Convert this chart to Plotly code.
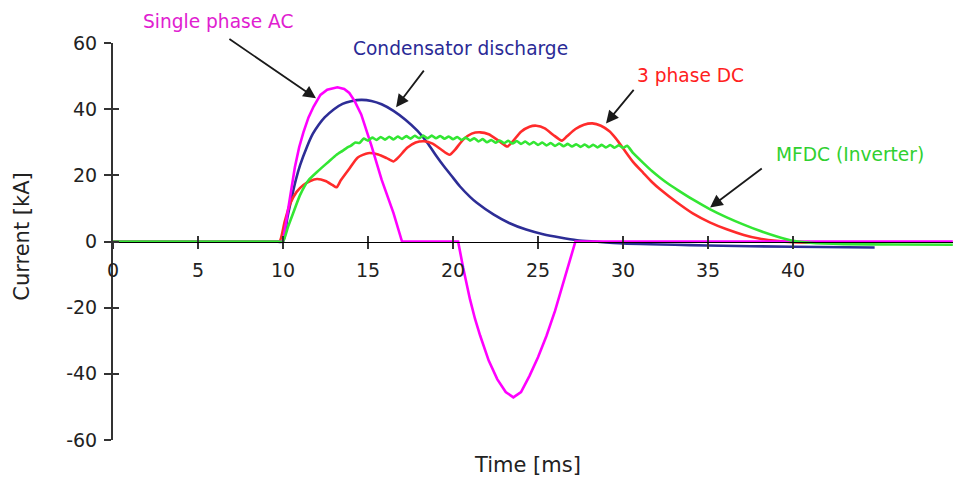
import plotly.graph_objects as go

# ---------------- data ----------------
ac_t = [0, 3, 6, 9, 10.0, 10.2, 10.4, 10.7, 10.95, 11.2, 11.5, 11.8, 12.2, 12.6, 13.2, 13.6, 13.9, 14.2, 14.6, 15.2,
        15.8, 16.5, 17.0, 18.0, 19.0, 20.3, 20.6, 21.0, 21.3, 21.6, 22.1, 22.6, 23.1, 23.55, 24.0, 24.5, 25.0,
        25.5, 26.0, 26.5, 26.9, 27.2, 30, 35, 40, 45, 49.4]
ac_i = [0, 0, 0, 0, 0, 6.5, 13, 22.5, 28.5, 33, 37.5, 40.8, 44.3, 45.9, 46.6, 46.1, 44.9, 42.6, 38.4, 29,
        18.7, 8.6, 0, 0, 0, 0, -8, -17.5, -23.5, -28.5, -36, -41.6, -45.5, -47.1, -45.5, -40.6, -35,
        -28.5, -21, -12.5, -5.5, 0, 0, 0, 0, 0, 0]

cd_t = [0, 3, 6, 9, 9.6, 10.0, 10.25, 10.5, 10.75, 11.0, 11.4, 11.75, 12.1, 12.45, 13.0, 13.5, 14.0, 14.6, 15.2,
        15.8, 16.5, 17.2, 17.9, 18.5, 19.0, 19.5, 20.0, 20.4, 21.0, 21.4, 22.4, 23.3, 24.3, 25.3, 26.3, 27.3,
        28.3, 30.0, 35.0, 40.0, 44.8]
cd_i = [0, 0, 0, 0, 0, 0, 7, 13, 18.5, 23, 28.5, 32.5, 35.3, 37.5, 40.0, 41.6, 42.4, 42.8, 42.5,
        41.5, 39.5, 36.8, 33.5, 29.8, 26, 22.5, 19.3, 16.7, 13.5, 11.7, 8.1, 5.6, 3.6, 2.2, 1.2, 0.4,
        0, -0.6, -1.2, -1.6, -1.8]

dc_t = [0, 3, 6, 9, 9.5, 9.8, 10.1, 10.4, 10.8, 11.2, 11.6, 12.0, 12.5, 12.9, 13.15, 13.4, 13.9, 14.4, 15.0, 15.6,
        16.1, 16.5, 16.8, 17.3, 17.8, 18.3, 18.8, 19.3, 19.8, 20.1, 20.6, 21.1, 21.6, 22.1, 22.7, 23.2, 23.5,
        24.0, 24.5, 24.9, 25.4, 25.9, 26.4, 26.7, 27.2, 27.7, 28.2, 28.7, 29.2, 29.6, 30.0, 30.6, 31.2, 31.7,
        32.2, 33.2, 34.1, 35.1, 36.1, 37.1, 38.0, 39.0, 40.0, 42.0, 44.8]
dc_i = [0, 0, 0, 0, 0, 0, 6, 11.2, 15.0, 17.1, 18.3, 18.9, 18.3, 17.1, 16.4, 18.5, 22.0, 25.4, 26.7, 26.3,
        25.2, 24.2, 25.5, 28.3, 29.9, 30.3, 29.6, 27.8, 26.2, 27.6, 30.8, 32.6, 33.0, 32.4, 30.4, 28.7, 30.2,
        33.2, 34.7, 35.0, 34.2, 32.2, 30.5, 31.8, 34.0, 35.3, 35.7, 35.0, 33.3, 31.0, 28.2, 24.0, 20.7, 18.0,
        15.7, 11.7, 8.5, 5.8, 3.7, 2.0, 0.9, 0.2, -0.2, -0.4, -0.4]

mf_t = [0, 3, 6, 9, 9.6, 10.0, 10.3, 10.6, 11.0, 11.5, 12.0, 12.3, 12.7, 13.15, 13.5,
        13.75, 14.0, 14.25, 14.5, 14.75, 15.0, 15.25, 15.5, 15.75, 16.0, 16.25, 16.5, 16.75, 17.0, 17.25, 17.5,
        17.75, 18.0, 18.25, 18.5, 18.75, 19.0, 19.25, 19.5, 19.75, 20.0, 20.25, 20.5, 20.75, 21.0, 21.25, 21.5,
        21.75, 22.0, 22.25, 22.5, 22.75, 23.0, 23.25, 23.5, 23.75, 24.0, 24.25, 24.5, 24.75, 25.0, 25.25, 25.5,
        25.75, 26.0, 26.25, 26.5, 26.75, 27.0, 27.25, 27.5, 27.75, 28.0, 28.25, 28.5, 28.75, 29.0, 29.25, 29.5,
        29.75, 30.0, 30.25,
        30.6, 31.2, 31.7, 32.2, 32.7, 33.2, 34.1, 35.1, 36.1, 37.1, 38.0, 39.0, 40.0, 41.0, 43.0, 46.0, 49.4]
mf_i = [0, 0, 0, 0, 0, 0, 4.5, 8.6, 14.0, 18.5, 21.0, 22.4, 24.2, 26.2, 27.4,
        28.3, 29.0, 29.9, 29.8, 31.1, 30.5, 31.4, 30.7, 31.6, 30.8, 31.65, 30.85, 31.75, 31.0, 31.85, 31.1,
        31.95, 31.2, 32.0, 31.2, 32.0, 31.2, 31.9, 31.05, 31.75, 30.9, 31.6, 30.7, 31.4, 30.5, 31.2, 30.25,
        30.95, 30.0, 30.7, 29.85, 30.55, 29.7, 30.45, 29.6, 30.35, 29.5, 30.2, 29.35, 30.05, 29.2, 29.9, 29.05,
        29.75, 28.9, 29.6, 28.8, 29.5, 28.7, 29.4, 28.6, 29.3, 28.5, 29.25, 28.45, 29.2, 28.4, 29.15, 28.35,
        29.1, 28.3, 28.9,
        26.7, 23.7, 21.3, 19.2, 17.3, 15.6, 12.7, 9.8, 7.3, 5.1, 3.3, 1.6, 0.2, -0.4, -0.8, -0.9, -1.0]

x_ticks = [0, 5, 10, 15, 20, 25, 30, 35, 40]
x_tick_text = ["0", "5", "10", "15", "20", "25", "30", "35", "40"]
y_ticks = [-60, -40, -20, 0, 20, 40, 60]
y_tick_text = ["-60", "-40", "-20", "0", "20", "40", "60"]

FONT = "DejaVu Sans"
C_AC, C_CD, C_DC, C_MF = "#FF00FF", "#2D2D96", "#FF2B2B", "#33E633"

fig = go.Figure()
fig.add_trace(go.Scatter(x=cd_t, y=cd_i, mode="lines", line=dict(color=C_CD, width=2.6, shape="spline", smoothing=0.6)))
fig.add_trace(go.Scatter(x=dc_t, y=dc_i, mode="lines", line=dict(color=C_DC, width=2.6, shape="spline", smoothing=0.6)))
fig.add_trace(go.Scatter(x=ac_t, y=ac_i, mode="lines", line=dict(color=C_AC, width=2.6, shape="linear")))
fig.add_trace(go.Scatter(x=mf_t, y=mf_i, mode="lines", line=dict(color=C_MF, width=2.6, shape="spline", smoothing=0.5)))
# helper trace for the crossing tick marks
fig.add_trace(go.Scatter(x=[None], y=[None], xaxis="x2", yaxis="y2", hoverinfo="skip"))

XR = [0, 49.41]
YR = [-60, 60]
tickfont = dict(family=FONT, size=19, color="#222222")

fig.update_layout(
    width=953, height=480,
    margin=dict(l=113, r=0, t=43, b=40),
    paper_bgcolor="white", plot_bgcolor="white",
    showlegend=False,
    xaxis=dict(range=XR, tickvals=x_ticks, ticktext=x_tick_text, ticks="outside", ticklen=6, tickwidth=2,
               tickcolor="#333333", showline=True, linecolor="black", linewidth=1, showgrid=False, zeroline=False,
               anchor="free", position=0.5, tickfont=tickfont, ticklabelstandoff=6),
    xaxis2=dict(range=XR, tickvals=x_ticks, ticks="inside", ticklen=6, tickwidth=2, tickcolor="#333333",
                showline=False, showgrid=False, zeroline=False, showticklabels=False,
                overlaying="x", anchor="free", position=0.5),
    yaxis=dict(range=YR, tickvals=y_ticks, ticktext=y_tick_text, ticks="outside", ticklen=7, tickwidth=2,
               tickcolor="#333333", showline=True, linecolor="#333333", linewidth=2, showgrid=False,
               zeroline=False, anchor="x", tickfont=tickfont, ticklabelstandoff=3),
    yaxis2=dict(range=YR, tickvals=y_ticks, ticks="inside", ticklen=6, tickwidth=2, tickcolor="#333333",
                showline=False, showgrid=False, zeroline=False, showticklabels=False,
                overlaying="y", anchor="x2", side="left"),
)

# axis titles
fig.add_annotation(text="Current [kA]", xref="paper", yref="paper", x=-0.1083, y=0.512, textangle=-90,
                   showarrow=False, xanchor="center", yanchor="middle", font=dict(family=FONT, size=21, color="#222222"))
fig.add_annotation(text="Time [ms]", xref="paper", yref="paper", x=0.494, y=-0.063,
                   showarrow=False, xanchor="center", yanchor="middle", font=dict(family=FONT, size=21, color="#222222"))

# series labels (paper coordinates)
labels = [
    ("Single phase AC", 0.125, 1.0554, "#E020D0"),
    ("Condensator discharge", 0.4137, 0.9874, "#2A2A96"),
    ("3 phase DC", 0.6879, 0.9169, "#FF2020"),
    ("MFDC (Inverter)", 0.8771, 0.7179, "#30D030"),
]
for txt, lx, ly, col in labels:
    fig.add_annotation(text=txt, x=lx, y=ly, xref="paper", yref="paper", showarrow=False,
                       xanchor="center", yanchor="middle", font=dict(family=FONT, size=18.6, color=col))

# arrows (head x,y ; tail ax,ay)
arrows = [
    (11.94, 43.3, 6.76, 61.5),
    (16.65, 40.6, 18.35, 52.1),
    (29.0, 35.7, 30.7, 46.3),
    (35.12, 10.3, 38.25, 22.4),
]
for hx, hy, tx, ty in arrows:
    fig.add_annotation(text="", x=hx, y=hy, ax=tx, ay=ty, axref="x", ayref="y", showarrow=True,
                       arrowhead=2, arrowsize=1.4, arrowwidth=1.8, arrowcolor="#1a1a1a", standoff=0)

fig.write_html("out.html")
